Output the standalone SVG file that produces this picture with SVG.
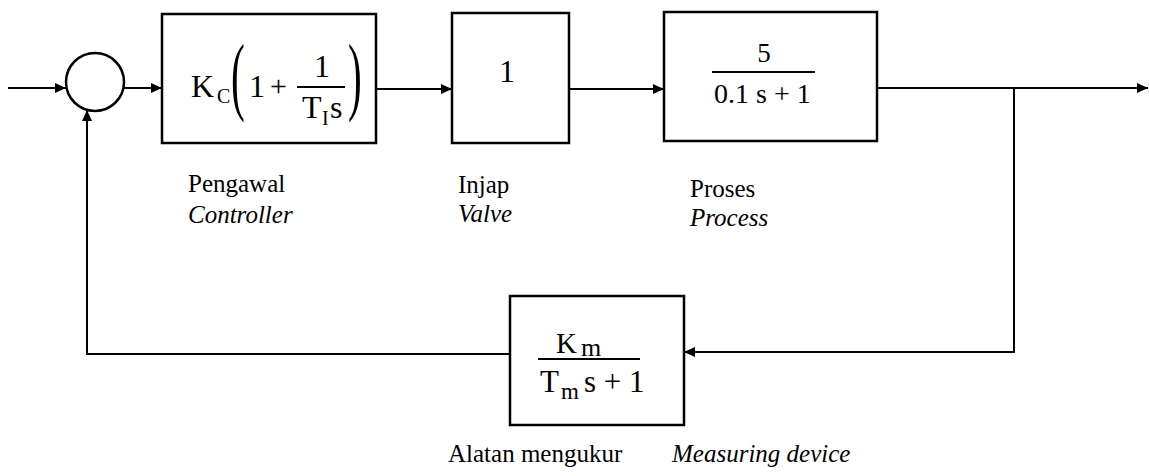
<svg xmlns="http://www.w3.org/2000/svg" width="1149" height="476" viewBox="0 0 1149 476">
<defs>
<marker id="arr" markerUnits="userSpaceOnUse" markerWidth="12" markerHeight="10" refX="11" refY="5" orient="auto">
<path d="M0,0 L11,5 L0,10 z" fill="#000"/>
</marker>
<style>
.box{fill:#fff;stroke:#000;stroke-width:2.5}
.ln{fill:none;stroke:#000;stroke-width:2}
.t{font-family:"Liberation Serif","Times New Roman",serif;fill:#000}
.lbl{font-family:"Liberation Serif","Times New Roman",serif;font-size:25px;fill:#000}
.it{font-style:italic}
</style>
</defs>
<rect width="1149" height="476" fill="#fff"/>
<g id="connectors">
<path class="ln" d="M8,88 H66" marker-end="url(#arr)"/>
<path class="ln" d="M124,88 H162" marker-end="url(#arr)"/>
<path class="ln" d="M376,89 H452" marker-end="url(#arr)"/>
<path class="ln" d="M569,89 H664" marker-end="url(#arr)"/>
<path class="ln" d="M877,88 H1148" marker-end="url(#arr)"/>
<path class="ln" d="M1014,88 V352 H684" marker-end="url(#arr)"/>
<path class="ln" d="M510,354 H87 V110" marker-end="url(#arr)"/>
</g>
<g id="sum">
<circle cx="95" cy="82" r="29" class="box" stroke-width="2"/>
</g>
<g id="controller">
<rect class="box" x="162" y="14" width="214" height="129"/>
<text class="t" x="191" y="97" font-size="32">K</text>
<text class="t" x="217" y="103" font-size="20">C</text>
<text class="t" font-size="86" transform="translate(231,104) scale(0.48,1)">(</text>
<text class="t" x="249" y="97" font-size="32">1</text>
<text class="t" x="270" y="96" font-size="30">+</text>
<text class="t" x="322" y="77" font-size="32" text-anchor="middle">1</text>
<line class="ln" x1="297" y1="87" x2="345" y2="87"/>
<text class="t" x="302" y="118" font-size="32">T</text>
<text class="t" x="322" y="125" font-size="20">I</text>
<text class="t" x="330" y="118" font-size="32">s</text>
<text class="t" font-size="86" transform="translate(348,104) scale(0.48,1)">)</text>
<text class="lbl" x="188" y="192">Pengawal</text>
<text class="lbl it" x="188" y="223">Controller</text>
</g>
<g id="valve">
<rect class="box" x="452" y="13" width="117" height="130"/>
<text class="t" x="507" y="82" font-size="32" text-anchor="middle">1</text>
<text class="lbl" x="458" y="193">Injap</text>
<text class="lbl it" x="458" y="222">Valve</text>
</g>
<g id="process">
<rect class="box" x="664" y="12" width="213" height="129"/>
<text class="t" x="764" y="62" font-size="27" text-anchor="middle">5</text>
<line class="ln" x1="712" y1="72" x2="815" y2="72"/>
<text class="t" x="714" y="103" font-size="28">0.1 s + 1</text>
<text class="lbl" x="690" y="197">Proses</text>
<text class="lbl it" x="690" y="226">Process</text>
</g>
<g id="measuring">
<rect class="box" x="510" y="296" width="174" height="129"/>
<text class="t" x="556" y="353" font-size="29">K</text>
<text class="t" x="581" y="356" font-size="26">m</text>
<line class="ln" x1="538" y1="359" x2="640" y2="359"/>
<text class="t" x="540" y="392" font-size="31">T</text>
<text class="t" x="561" y="399" font-size="23">m</text>
<text class="t" x="584" y="392" font-size="31">s + 1</text>
<text class="lbl" x="448" y="462">Alatan mengukur</text>
<text class="lbl it" x="672" y="462">Measuring device</text>
</g>
</svg>
